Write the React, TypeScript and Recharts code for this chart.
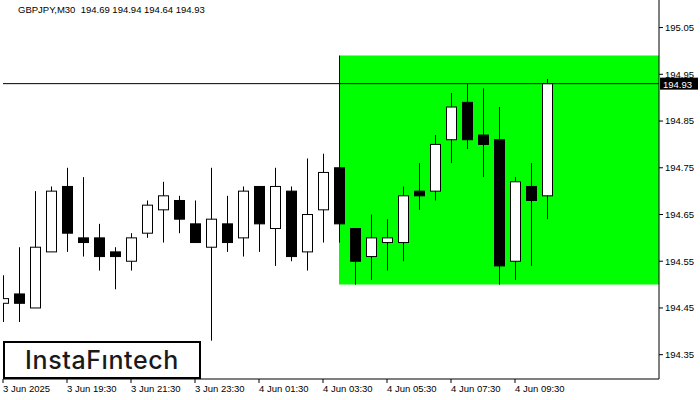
import { ComposedChart, Bar, XAxis, YAxis, ReferenceArea, ReferenceLine } from 'recharts';

// GBPJPY M30 candles (oldest first)
const opens = [
  194.46, 194.48, 194.45, 194.57, 194.71, 194.60, 194.60, 194.57, 194.55, 194.61,
  194.66, 194.68, 194.63, 194.58, 194.63, 194.60, 194.71, 194.62, 194.70, 194.57,
  194.66, 194.75, 194.62, 194.56, 194.59, 194.59, 194.70, 194.70, 194.81, 194.89,
  194.82, 194.81, 194.55, 194.71, 194.69,
];
const highs = [
  194.52, 194.58, 194.70, 194.71, 194.75, 194.73, 194.63, 194.58, 194.61, 194.68,
  194.72, 194.69, 194.68, 194.75, 194.69, 194.71, 194.71, 194.75, 194.71, 194.77,
  194.78, 194.99, 194.62, 194.65, 194.64, 194.71, 194.76, 194.82, 194.91, 194.93,
  194.92, 194.88, 194.73, 194.76, 194.94,
];
const lows = [
  194.42, 194.42, 194.45, 194.57, 194.57, 194.56, 194.53, 194.49, 194.53, 194.60,
  194.59, 194.61, 194.59, 194.38, 194.57, 194.56, 194.57, 194.54, 194.55, 194.53,
  194.59, 194.59, 194.50, 194.51, 194.53, 194.55, 194.66, 194.68, 194.76, 194.79,
  194.73, 194.50, 194.51, 194.54, 194.64,
];
const closes = [
  194.47, 194.46, 194.58, 194.70, 194.61, 194.59, 194.56, 194.56, 194.60, 194.67,
  194.69, 194.64, 194.59, 194.64, 194.59, 194.70, 194.63, 194.71, 194.56, 194.65,
  194.74, 194.63, 194.55, 194.60, 194.60, 194.69, 194.69, 194.80, 194.88, 194.81,
  194.80, 194.54, 194.72, 194.68, 194.93,
];

const timeTickIndex = [0, 4, 8, 12, 16, 20, 24, 28, 32];
const timeTickLabels = [
  '3 Jun 2025', '3 Jun 19:30', '3 Jun 21:30', '3 Jun 23:30', '4 Jun 01:30',
  '4 Jun 03:30', '4 Jun 05:30', '4 Jun 07:30', '4 Jun 09:30',
];
const priceTicks = [194.35, 194.45, 194.55, 194.65, 194.75, 194.85, 194.95, 195.05];

const symbol = 'GBPJPY,M30';
const lastBar = [194.69, 194.94, 194.64, 194.93];
const lastPrice = 194.93;

// green rectangle zone
const zoneStart = 21;
const zoneEnd = 41;
const zoneLow = 194.5;
const zoneHigh = 194.99;

const data = opens.map((open, i) => ({
  i,
  open,
  high: highs[i],
  low: lows[i],
  close: closes[i],
}));

const FONT = '"Liberation Sans", Arial, sans-serif';

function Candle(props: any) {
  const { x, y, width, height, payload } = props;
  if (!payload) return null;
  const top = Math.min(y, y + height);
  const bottom = Math.max(y, y + height);
  const { open, high, low, close } = payload;
  const span = high - low || 1;
  const toY = (p: number) => top + ((high - p) / span) * (bottom - top);
  const cx = Math.round(x + width / 2) + 0.5;
  const bodyTop = toY(Math.max(open, close));
  const bodyBottom = toY(Math.min(open, close));
  const up = close >= open;
  return (
    <g>
      <line x1={cx} x2={cx} y1={top} y2={bottom} stroke="#000" strokeWidth={1} />
      <rect
        x={cx - 5}
        y={bodyTop}
        width={10}
        height={Math.max(bodyBottom - bodyTop, 1)}
        fill={up ? '#fff' : '#000'}
        stroke="#000"
        strokeWidth={1}
      />
    </g>
  );
}

function TimeTick({ x, y, payload }: any) {
  const k = timeTickIndex.indexOf(payload.value);
  return (
    <text x={x} y={y + 7} fontSize={9.5} fontFamily={FONT} fill="#000" textAnchor="start">
      {k >= 0 ? timeTickLabels[k] : ''}
    </text>
  );
}

function PriceTag({ viewBox }: any) {
  const x = viewBox.x + viewBox.width;
  const y = viewBox.y;
  return (
    <g>
      <rect x={x + 1} y={y - 6} width={38} height={12} fill="#000" />
      <text x={x + 4} y={y + 4} fontSize={9.5} fontFamily={FONT} fill="#fff">
        {lastPrice.toFixed(2)}
      </text>
    </g>
  );
}

export default function App() {
  return (
    <div style={{ position: 'absolute', left: 0, top: 0, width: 700, height: 400, background: '#fff' }}>
      <ComposedChart width={700} height={400} data={data} margin={{ top: 0, right: 0, bottom: 0, left: 3 }}>
        <XAxis
          dataKey="i"
          type="number"
          domain={[0, 41]}
          allowDataOverflow
          ticks={timeTickIndex}
          interval={0}
          height={21}
          tickSize={4}
          axisLine={{ stroke: '#000' }}
          tickLine={{ stroke: '#000' }}
          tick={<TimeTick />}
        />
        <YAxis
          orientation="right"
          type="number"
          domain={[194.298, 195.109]}
          allowDataOverflow
          ticks={priceTicks}
          interval={0}
          width={41}
          tickSize={4}
          axisLine={{ stroke: '#000' }}
          tickLine={{ stroke: '#000' }}
          tick={{ fontSize: 9.5, fontFamily: FONT, fill: '#000' }}
          tickFormatter={(v: number) => v.toFixed(2)}
        />
        <ReferenceArea
          x1={zoneStart}
          x2={zoneEnd}
          y1={zoneLow}
          y2={zoneHigh}
          fill="#00ff00"
          fillOpacity={1}
          stroke="none"
        />
        <Bar
          dataKey={(d: any) => [d.low, d.high]}
          barSize={11}
          shape={<Candle />}
          isAnimationActive={false}
        />
        <ReferenceLine y={lastPrice} stroke="#000" strokeWidth={1} label={<PriceTag />} />
      </ComposedChart>

      <div
        style={{
          position: 'absolute',
          left: 18,
          top: 4,
          fontFamily: FONT,
          fontSize: 9.5,
          color: '#000',
          whiteSpace: 'pre',
        }}
      >
        {symbol + '  ' + lastBar.map((v) => v.toFixed(2)).join(' ')}
      </div>

      <div
        style={{
          position: 'absolute',
          left: 3,
          top: 341,
          width: 198,
          height: 38,
          boxSizing: 'border-box',
          border: '2px solid #000',
          background: '#fff',
          display: 'flex',
          alignItems: 'center',
          justifyContent: 'center',
          fontFamily: 'Inter, Roboto, sans-serif',
          fontSize: 25,
          fontWeight: 500,
          letterSpacing: 0.6,
          color: '#1a1a1a',
        }}
      >
        InstaFıntech
      </div>
    </div>
  );
}
